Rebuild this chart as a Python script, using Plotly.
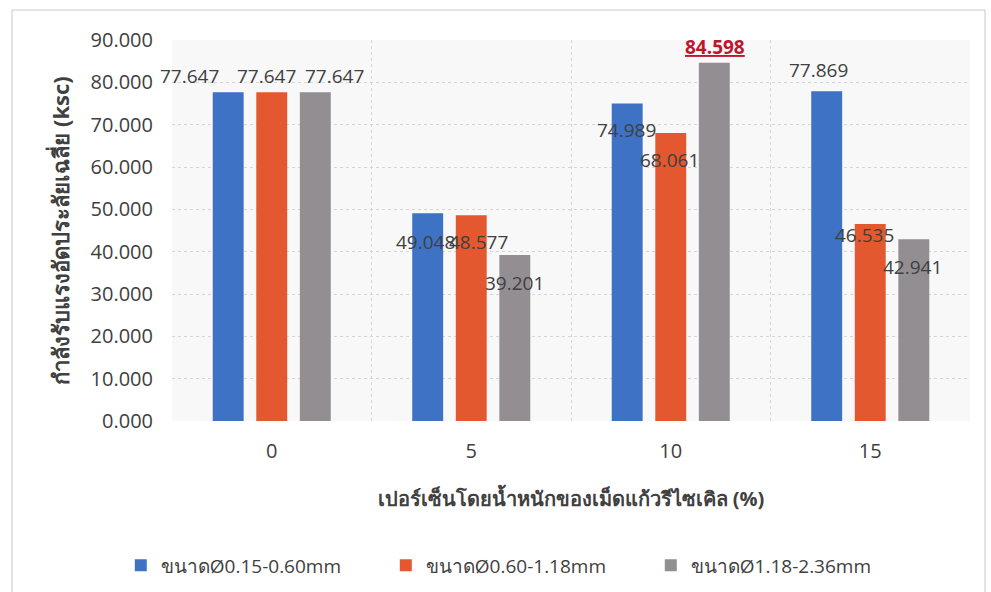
import plotly.graph_objects as go

categories = ["0", "5", "10", "15"]
series_names = ["ขนาดØ0.15-0.60mm", "ขนาดØ0.60-1.18mm", "ขนาดØ1.18-2.36mm"]
vals_small = [77.647, 49.048, 74.989, 77.869]
vals_mid = [77.647, 48.577, 68.061, 46.535]
vals_large = [77.647, 39.201, 84.598, 42.941]
series_values = [vals_small, vals_mid, vals_large]
y_ticks = [0, 10, 20, 30, 40, 50, 60, 70, 80, 90]

colors = ["#3d72c4", "#e4582f", "#928e92"]
# label pixel offsets relative to bar top centre (style only)
label_dx = [[-39, -2, -1, -8], [-5, 7, -1, -6], [19, 0, 1, -1]]
label_dy = [[16, -29, -26, 21], [16, -27, -27, -11], [16, -28, 16, -28]]

FONT = "Open Sans, Noto Sans, sans-serif"
TXT = "#404040"
bargap = 0.345

fig = go.Figure()
for name, vals, c in zip(series_names, series_values, colors):
    fig.add_trace(go.Bar(x=categories, y=vals, name=name, marker_color=c,
                         marker_line_width=0))

annotations = []
n = len(series_values)
vmax = max(max(s) for s in series_values)
for k, vals in enumerate(series_values):
    for i, v in enumerate(vals):
        xpos = i + (k - (n - 1) / 2) * (1 - bargap) / n
        is_max = v == vmax
        txt = f"{v:.3f}"
        if is_max:
            txt = f"<u><b>{txt}</b></u>"
        annotations.append(dict(
            x=xpos, y=v, xref="x", yref="y", text=txt, showarrow=False,
            xanchor="center", yanchor="middle",
            xshift=label_dx[k][i], yshift=label_dy[k][i],
            font=dict(family=FONT, size=19, color="#c0142c" if is_max else TXT)))

fig.update_layout(
    width=991, height=592,
    margin=dict(l=172, r=21, t=40, b=171, autoexpand=False),
    paper_bgcolor="white", plot_bgcolor="#f8f8f8",
    barmode="group", bargap=bargap, bargroupgap=0.29,
    font=dict(family=FONT, color=TXT),
    annotations=annotations,
    showlegend=True,
    legend=dict(orientation="h", x=0.523, xanchor="center", xref="container",
                y=0.045, yanchor="middle", yref="container",
                font=dict(family=FONT, size=19, color=TXT), itemwidth=30,
                traceorder="normal", entrywidth=220),
    shapes=[dict(type="rect", xref="paper", yref="paper",
                 x0=-0.2005, x1=1.0188, y0=-0.5, y1=1.0787,
                 line=dict(color="#c8c8c8", width=1), fillcolor="rgba(0,0,0,0)",
                 layer="below")],
)
fig.update_xaxes(
    type="category", tickson="boundaries", showgrid=True, gridcolor="#d6d6d6",
    range=[-0.5, len(categories) - 0.5],
    griddash="dot", gridwidth=1, ticks="", showline=False, zeroline=False,
    automargin=False,
    tickfont=dict(family=FONT, size=20, color=TXT), ticklabelstandoff=16,
    title=dict(text="<b>เปอร์เซ็นโดยน้ำหนักของเม็ดแก้วรีไซเคิล (%)</b>",
               font=dict(family=FONT, size=20, color=TXT), standoff=28),
)
fig.update_yaxes(
    range=[0, 90], tickvals=y_ticks, tickformat=".3f", showgrid=True,
    gridcolor="#d6d6d6", griddash="dot", gridwidth=1, zeroline=False,
    showline=False, ticks="", automargin=False,
    tickfont=dict(family=FONT, size=20, color=TXT), ticklabelstandoff=18,
    title=dict(text="<b>กำลังรับแรงอัดประลัยเฉลี่ย (ksc)</b>",
               font=dict(family=FONT, size=22, color=TXT), standoff=14),
)
fig.write_html("out.html")
